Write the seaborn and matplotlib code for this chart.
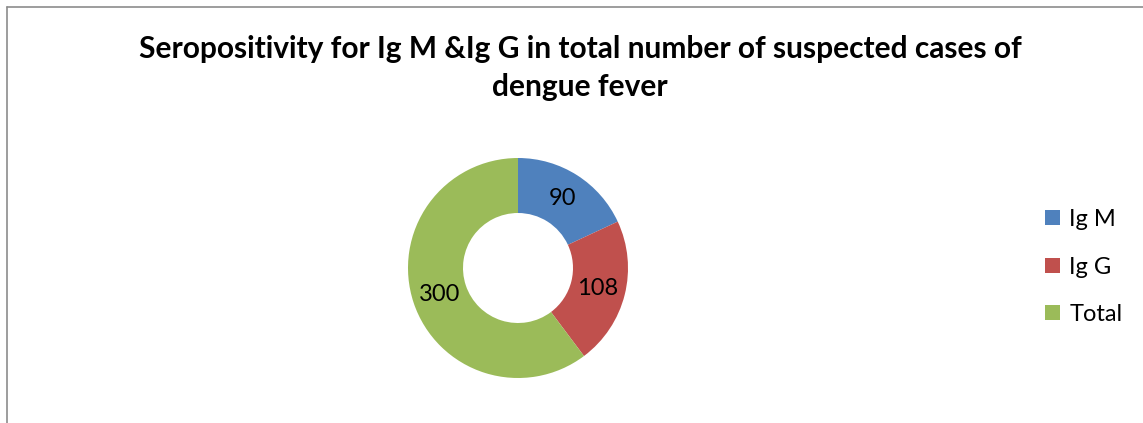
import matplotlib.pyplot as plt
import seaborn as sns
from matplotlib.lines import Line2D
from matplotlib.patches import Patch

categories = ["Ig M", "Ig G", "Total"]
counts = [90, 108, 300]
colors = ["#4F81BD", "#C0504D", "#9BBB59"]
title = "Seropositivity for Ig M &Ig G in total number of suspected cases of\ndengue fever"

sns.set_theme(style="white")
plt.rcParams['font.family'] = ['Lato', 'DejaVu Sans']
plt.rcParams['text.color'] = 'black'

W, H = 1143, 423
fig = plt.figure(figsize=(W / 100, H / 100), dpi=100)

# donut: centre (518, 268) px, outer radius 110 px
cx, cy, r = 518, 268, 110
ax = fig.add_axes([(cx - r) / W, (H - cy - r) / H, 2 * r / W, 2 * r / H])
wedges, texts = ax.pie(counts, colors=colors, startangle=90, counterclock=False,
                       radius=1.0, wedgeprops=dict(width=0.5, edgecolor="none"),
                       labels=[str(c) for c in counts], labeldistance=0.75)
for t in texts:
    t.set_ha("center")
    t.set_va("center")
    t.set_fontsize(17)
    t.set_color("black")
ax.set_xlim(-1, 1)
ax.set_ylim(-1, 1)
ax.set_aspect("equal")
ax.axis("off")

fig.text(580 / W, 1 - 68 / H, title, ha="center", va="center", fontsize=21.5,
         fontweight="bold", linespacing=1.45, color="black")

handles = [Patch(facecolor=c, edgecolor="none") for c in colors]
fig.legend(handles, categories, loc="center left", bbox_to_anchor=(1024 / W, 1 - 267 / H),
           frameon=False, fontsize=17, handlelength=0.62, handleheight=0.62,
           handletextpad=0.4, labelspacing=1.12)

# chart border (left and top)
fig.add_artist(Line2D([7 / W, 7 / W], [0, 1 - 7 / H], transform=fig.transFigure,
                      color="#8c8c8c", lw=1.2))
fig.add_artist(Line2D([7 / W, 1], [1 - 7 / H, 1 - 7 / H], transform=fig.transFigure,
                      color="#8c8c8c", lw=1.2))

fig.savefig("out.png", dpi=100)
